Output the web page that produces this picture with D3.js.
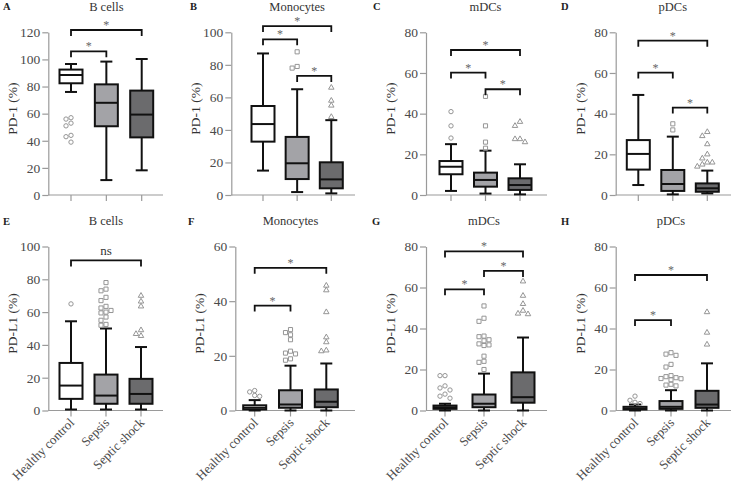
<!DOCTYPE html>
<html><head><meta charset="utf-8">
<script src="https://cdn.jsdelivr.net/npm/d3@7"></script>
<style>body{margin:0;background:#fff}svg{display:block}text{font-family:"Liberation Serif","Times New Roman",serif}</style>
</head><body><svg id="c" width="732" height="486"></svg>
<script>
const groups = ["Healthy control", "Sepsis", "Septic shock"];
const panelLetters = ["A","B","C","D","E","F","G","H"];
const cellTypes = ["B cells","Monocytes","mDCs","pDCs","B cells","Monocytes","mDCs","pDCs"];
const yLabels = ["PD-1 (%)","PD-1 (%)","PD-1 (%)","PD-1 (%)","PD-L1 (%)","PD-L1 (%)","PD-L1 (%)","PD-L1 (%)"];
const yMaxes = [120,100,80,80,100,60,80,80];

// [lower whisker, Q1, median, Q3, upper whisker] per group
const boxStats = [
 [[76,82.4,88.5,92.5,96.6],[11,50.7,68,81.6,98.4],[18.2,42.5,59.3,77,100.3]],
 [[15,32.8,43.6,54.7,87],[1.8,9.8,19.5,35.7,65],[1,4.1,9.6,20.1,46]],
 [[2,10.2,13.9,16.7,25],[0.7,4.1,7.4,11,21.8],[0.3,2.5,4.9,8.2,15.1]],
 [[4.9,12.5,20.2,27,49.2],[0.3,2,5.4,12.3,28.7],[0.8,1.6,3.3,5.7,12]],
 [[0.6,7.1,15.2,29,54.4],[0.6,4.1,9.1,21.9,50],[0.6,4.1,10.1,19.3,38.7]],
 [[0,0.4,1,1.9,3.8],[0,1,2.2,7.4,16.4],[0,1.2,3.2,7.7,17.2]],
 [[0,0.8,1.6,2.4,3.3],[0,1.6,3.3,7.8,18],[0,3.8,6.5,18.6,35.6]],
 [[0,0.5,1,1.8,2.9],[0,0.8,1.8,4.6,9.9],[0,1.3,2.9,9.6,23]]
];

const outliers = [
 [[57,56,53,51,44,43,39],[],[]],
 [[],[88,79,78],[66,58,55,48]],
 [[41,34,28],[48.5,34,26,23],[36,34,27.5,27.5,26]],
 [[],[35,32],[31,29,25,20,18,16,16,15,14]],
 [[65],[78,74,73,69,67,63.5,62.5,61,60,59.5,57,55,52.5,52],[70,66.5,63.5,49,46.7,45.5]],
 [[7.3,6.8,5.5,5.2],[29.6,28.5,27.7,25.9,21.7,21,20.7,18.9,18.4],[45.7,44,36,26.8,25,22,21.7]],
 [[17,17,12,11,10,8,7,6],[51,45,43.5,36.3,36,34.5,34,32.5,32,31.7,26.5,24,23.5,20],[63,56,52,48.7,47.3,47]],
 [[7,5,4,3.4],[28.2,27.5,26.9,22.5,21.2,17,16.5,16,15.6,15.5,15,12.8,12.4,12],[48,38,32.2]]
];

// [from group, to group, y value, label]
const brackets = [
 [[0,1,106,"*"],[0,2,121.7,"*"]],
 [[0,1,95.7,"*"],[1,2,73.2,"*"],[0,2,103.8,"*"]],
 [[0,1,60.2,"*"],[1,2,52,"*"],[0,2,71.3,"*"]],
 [[0,1,60.2,"*"],[1,2,43,"*"],[0,2,75.9,"*"]],
 [[0,2,91.5,"ns"]],
 [[0,1,38.4,"*"],[0,2,52.2,"*"]],
 [[0,1,59.1,"*"],[1,2,68.1,"*"],[0,2,77.6,"*"]],
 [[0,1,44.1,"*"],[0,2,66.1,"*"]]
];

// layout: [axisX, first center, last center, axis end, letterX]
const layout = [
 [48.3,71,141.7,163,3],[231.3,263,331.3,355,190],[426,451,520,547,373],[615.7,638.3,707.3,731,561],
 [48.3,71,141,163,3],[235.3,254.7,326.3,355,188],[426,445,523,547,372],[615.7,635,707,731,561]
];
const rows = [{top:32.3,bottom:195,titleY:11.2,letterY:10},{top:246.5,bottom:410.5,titleY:225,letterY:225}];
const fills = ["#ffffff","#a3a3a7","#6b6b6d"];
const symbols = [d3.symbolCircle, d3.symbolSquare, d3.symbolTriangle];
const symSizes = [15, 17, 13];

const svg = d3.select("#c");
const axisColor = "#9a9a9a", textColor = "#4a4a4a";

panelLetters.forEach((L, p) => {
  const row = rows[p < 4 ? 0 : 1];
  const [ax, c0, c2, aend, lx] = layout[p];
  const y = d3.scaleLinear().domain([0, yMaxes[p]]).range([row.bottom, row.top]);
  const x = d3.scaleLinear().domain([0, 2]).range([c0, c2]);
  const g = svg.append("g");

  g.append("text").attr("x", lx).attr("y", row.letterY).attr("font-size", 10.5).attr("font-weight", "bold").attr("fill", "#222").text(L);
  g.append("text").attr("x", x(1)).attr("y", row.titleY).attr("text-anchor", "middle").attr("font-size", 12.5).attr("fill", "#333").text(cellTypes[p]);

  const ya = g.append("g").attr("transform", `translate(${ax},0)`)
    .call(d3.axisLeft(y).tickValues(d3.range(0, yMaxes[p] + 1, 20)).tickSize(6).tickPadding(2).tickSizeOuter(0));
  ya.select(".domain").attr("stroke", axisColor).attr("stroke-width", 1.2);
  ya.selectAll(".tick line").attr("stroke", axisColor).attr("stroke-width", 1.2);
  ya.selectAll(".tick text").attr("font-size", 13.5).attr("fill", textColor);

  const xa = g.append("g").attr("transform", `translate(0,${row.bottom})`);
  xa.append("line").attr("x1", ax).attr("x2", aend).attr("stroke", axisColor).attr("stroke-width", 1.2);
  xa.selectAll(".xt").data(groups).join("line").attr("class", "xt")
    .attr("x1", (d, i) => x(i)).attr("x2", (d, i) => x(i)).attr("y1", 0).attr("y2", 6)
    .attr("stroke", axisColor).attr("stroke-width", 1.2);
  if (p >= 4) {
    xa.selectAll(".xl").data(groups).join("text").attr("class", "xl")
      .attr("x", 0).attr("y", 0)
      .attr("transform", (d, i) => `translate(${x(i) + 4},${13}) rotate(-45)`)
      .attr("text-anchor", "end").attr("font-size", 13).attr("fill", textColor).text(d => d);
  }

  g.append("text").attr("transform", `translate(${ax - 31},${(row.top + row.bottom) / 2 - 5}) rotate(-90)`)
    .attr("text-anchor", "middle").attr("font-size", 13.5).attr("fill", "#333").text(yLabels[p]);

  const bw = 23, cw = 12;
  boxStats[p].forEach((s, i) => {
    const cx = x(i);
    const [lo, q1, md, q3, hi] = s;
    const bg = g.append("g").attr("stroke", "#111").attr("stroke-width", 2).attr("fill", "none");
    bg.append("line").attr("x1", cx).attr("x2", cx).attr("y1", y(hi)).attr("y2", y(q3));
    bg.append("line").attr("x1", cx).attr("x2", cx).attr("y1", y(q1)).attr("y2", y(lo));
    bg.append("line").attr("x1", cx - cw / 2).attr("x2", cx + cw / 2).attr("y1", y(hi)).attr("y2", y(hi));
    bg.append("line").attr("x1", cx - cw / 2).attr("x2", cx + cw / 2).attr("y1", y(lo)).attr("y2", y(lo));
    bg.append("rect").attr("x", cx - bw / 2).attr("width", bw).attr("y", y(q3)).attr("height", Math.max(0.5, y(q1) - y(q3))).attr("fill", fills[i]);
    bg.append("line").attr("x1", cx - bw / 2).attr("x2", cx + bw / 2).attr("y1", y(md)).attr("y2", y(md));

    const placed = [];
    outliers[p][i].slice().sort((a, b) => b - a).forEach(v => {
      const py = y(v);
      const offs = [0, -5, 5, -10, 10];
      let ox = 0;
      for (const o of offs) {
        if (!placed.some(q => Math.abs(q[1] - py) < 4.5 && Math.abs(q[0] - (cx + o)) < 4.5)) { ox = o; break; }
      }
      placed.push([cx + ox, py]);
      g.append("path").attr("d", d3.symbol().type(symbols[i]).size(symSizes[i])())
        .attr("transform", `translate(${cx + ox},${py})`)
        .attr("fill", "none").attr("stroke", "#959595").attr("stroke-width", 1);
    });
  });

  brackets[p].forEach(([a, b, v, lab]) => {
    const by = y(v);
    g.append("path").attr("d", `M${x(a)},${by + 6}V${by}H${x(b)}V${by + 6}`)
      .attr("fill", "none").attr("stroke", "#111").attr("stroke-width", 1.8);
    g.append("text").attr("x", (x(a) + x(b)) / 2).attr("y", lab === "ns" ? by - 5 : by - 1)
      .attr("text-anchor", "middle").attr("font-size", lab === "ns" ? 13 : 12).attr("fill", lab === "ns" ? "#333" : "#666").text(lab);
  });
});
</script></body></html>
